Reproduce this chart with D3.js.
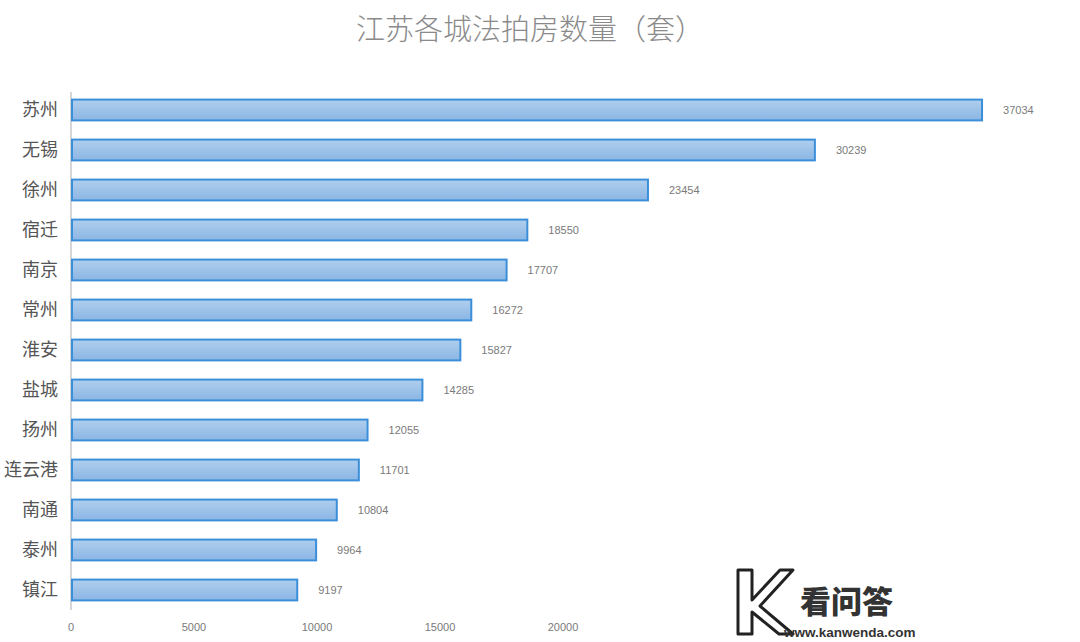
<!DOCTYPE html>
<html><head><meta charset="utf-8">
<script src="https://cdn.jsdelivr.net/npm/d3@7"></script>
<style>body{margin:0;background:#fff}svg{display:block}</style>
</head><body>
<svg id="c" width="1080" height="642"></svg>
<script>
const categories = ["苏州","无锡","徐州","宿迁","南京","常州","淮安","盐城","扬州","连云港","南通","泰州","镇江"];
const values = [37034,30239,23454,18550,17707,16272,15827,14285,12055,11701,10804,9964,9197];
const tickValues = [0,5000,10000,15000,20000];
const title = "江苏各城法拍房数量（套）";

const svg = d3.select("#c");
const font = "'Noto Sans CJK SC','Noto Sans',sans-serif";
const x = d3.scaleLinear().domain([0,10000]).range([71,317]);
const y = d3.scaleBand().domain(categories).range([90,610]).paddingInner(0.48).paddingOuter(0.24);

const defs = svg.append("defs");
const g = defs.append("linearGradient").attr("id","bg").attr("x1",0).attr("y1",0).attr("x2",0).attr("y2",1);
g.append("stop").attr("offset","0%").attr("stop-color","#b0cfee");
g.append("stop").attr("offset","100%").attr("stop-color","#8ab5e4");

svg.append("text").attr("x",530).attr("y",40).attr("text-anchor","middle")
  .attr("font-family",font).attr("font-size",29).attr("font-weight",300).attr("fill","#8a8a8a").text(title);

// axis line
svg.append("line").attr("x1",x(0)).attr("x2",x(0)).attr("y1",92).attr("y2",610)
  .attr("stroke","#d6d6d6").attr("stroke-width",2);

svg.selectAll("rect.bar").data(values).join("rect").attr("class","bar")
  .attr("x",x(0)+1).attr("y",(d,i)=>y(categories[i]))
  .attr("width",d=>x(d)-x(0)-1).attr("height",y.bandwidth())
  .attr("fill","url(#bg)").attr("stroke","#3b8fd9").attr("stroke-width",2);

svg.selectAll("text.cat").data(categories).join("text").attr("class","cat")
  .attr("x",58).attr("y",d=>y(d)+y.bandwidth()/2).attr("dy","0.36em")
  .attr("text-anchor","end").attr("font-family",font).attr("font-size",18).attr("fill","#555").text(d=>d);

svg.selectAll("text.val").data(values).join("text").attr("class","val")
  .attr("x",d=>x(d)+21).attr("y",(d,i)=>y(categories[i])+y.bandwidth()/2).attr("dy","0.36em")
  .attr("font-family","'Liberation Sans',Arial,sans-serif").attr("font-size",11).attr("fill","#7a7a7a").text(d=>d);

svg.selectAll("text.tick").data(tickValues).join("text").attr("class","tick")
  .attr("x",d=>x(d)).attr("y",627).attr("dy","0.36em").attr("text-anchor","middle")
  .attr("font-family","'Liberation Sans',Arial,sans-serif").attr("font-size",11).attr("fill","#7a7a7a").text(d=>d);

// watermark
const wm = svg.append("g");
wm.append("path").attr("d","M738,570 L752,570 L752,600 L780,570 L793,570 L760,606 L793,634 L779,634 L752,612 L752,634 L738,634 Z")
  .attr("fill","none").attr("stroke","#222").attr("stroke-width",3).attr("stroke-linejoin","round");
wm.append("text").attr("x",800).attr("y",613).attr("font-family",font).attr("font-weight",900)
  .attr("font-size",31).attr("fill","#333").text("看问答");
wm.append("text").attr("x",784).attr("y",637).attr("font-family","'Liberation Sans',Arial,sans-serif").attr("font-weight",700)
  .attr("font-size",13.5).attr("fill","#333").text("www.kanwenda.com");
</script>
</body></html>
